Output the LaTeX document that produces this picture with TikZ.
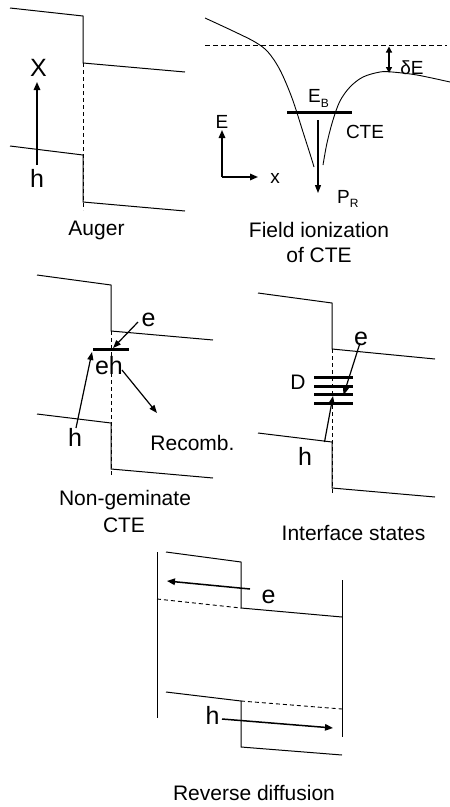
\documentclass[tikz,border=0pt]{standalone}
\usepackage{fontspec}
\setmainfont{Liberation Sans}
\usetikzlibrary{arrows.meta}
\begin{document}
\begin{tikzpicture}[x=1pt,y=-1pt,
  band/.style={line width=1pt},
  dsh/.style={line width=0.9pt, dash pattern=on 4pt off 3pt},
  arr/.style={line width=1.5pt,-{Triangle[length=8pt,width=6.5pt]}},
  tarr/.style={line width=1.2pt,-{Triangle[length=8pt,width=6pt]}},
  bar/.style={line width=3pt},
  lab/.style={inner sep=0pt, font=\fontsize{25}{28}\selectfont},
  mlab/.style={inner sep=0pt, font=\fontsize{21}{25}\selectfont},
  flab/.style={inner sep=0pt, font=\fontsize{19}{22}\selectfont},
  captxt/.style={inner sep=0pt, anchor=base, font=\fontsize{21}{25}\selectfont}]
\useasboundingbox (0,0) rectangle (450,807);

% ---------- Auger ----------
\draw[band] (10,8) -- (83,16) -- (83,63) -- (185,72);
\draw[dsh] (83,63) -- (83,210);
\draw[band] (10,146) -- (83,155) -- (83,202) -- (185,211);
\node[lab] (augX) at (38.5,67.5) {X};
\node[lab] (augh) at (37,178) {h};
\coordinate (augA) at (37,165);
\coordinate (augB) at (37,82);
\draw[arr] (augA) -- (augB);
\node[captxt] (augcap) at (96.5,235) {Auger};

% ---------- Field ionization ----------
\draw[line width=0.9pt, dash pattern=on 5pt off 3pt] (205,45) -- (447,45);
\draw[line width=0.9pt] plot[smooth,tension=0.55] coordinates
  {(205,18) (233,31) (255,42) (268,52) (280,70) (292,98) (303,132) (311,157) (314,167)};
\draw[line width=0.9pt] plot[smooth,tension=0.55] coordinates
  {(323,165) (327,143) (333,120) (340,101) (350,87) (363,77) (380,72) (392,72) (417,75) (450,82)};
\coordinate (ebL) at (287,112);
\coordinate (ebR) at (352,112);
\draw[bar] (ebL) -- (ebR);
\node[flab, anchor=base west] (eb) at (308,102) {E\raisebox{-5pt}{\fontsize{12}{12}\selectfont B}};
\node[flab] (cte) at (365,131.5) {CTE};
\node[flab] (de) at (412,68) {δE};
\coordinate (deT) at (389,46.5);
\coordinate (deB) at (389,73);
\draw[line width=1.3pt, {Triangle[length=6pt,width=6pt]}-{Triangle[length=6pt,width=6pt]}] (deT) -- (deB);
\coordinate (prA) at (318,120);
\coordinate (prB) at (318,193);
\draw[tarr] (prA) -- (prB);
\node[flab, anchor=base west] (pr) at (337,203) {P\raisebox{-4pt}{\fontsize{12}{12}\selectfont R}};
\coordinate (ax0) at (222,177);
\coordinate (axE) at (222,130);
\coordinate (axX) at (258,177);
\draw[arr] (ax0) -- (axE);
\draw[arr] (ax0) -- (axX);
\node[flab] (axEl) at (222,121.5) {E};
\node[flab] (axXl) at (275,178) {x};
\node[captxt] (ficap1) at (319,237.5) {Field ionization};
\node[captxt] (ficap2) at (319,262.5) {of CTE};

% ---------- Non-geminate CTE ----------
\draw[band] (37,275) -- (111,285) -- (111,331) -- (213,340);
\draw[dsh] (111,331) -- (111,476);
\draw[band] (37,414) -- (111,423) -- (111,469) -- (213,478);
\coordinate (ngL) at (93,349);
\coordinate (ngR) at (129,349);
\draw[bar] (ngL) -- (ngR);
\node[lab] (ngeh) at (109,365.5) {eh};
\node[lab] (nge) at (148.5,320) {e};
\node[lab] (ngh) at (75,437.5) {h};
\coordinate (ngeA) at (138,322);
\coordinate (ngeB) at (113,348);
\draw[tarr] (ngeA) -- (ngeB);
\coordinate (nghA) at (76,428);
\coordinate (nghB) at (92,352);
\draw[tarr] (nghA) -- (nghB);
\coordinate (ngrA) at (122,370);
\coordinate (ngrB) at (157,413);
\draw[tarr] (ngrA) -- (ngrB);
\node[mlab] (recomb) at (192.5,443) {Recomb.};
\node[captxt] (ngcap1) at (125,505) {Non-geminate};
\node[captxt] (ngcap2) at (124,532) {CTE};

% ---------- Interface states ----------
\draw[band] (258,293) -- (332,303) -- (332,349) -- (435,359);
\draw[dsh] (332,349) -- (332,493);
\draw[band] (258,433) -- (332,442) -- (332,488) -- (435,497);
\foreach \yy in {377,386,394.5,403.5} {\draw[bar] (314,\yy) -- (353,\yy);}
\node[mlab] (isD) at (298,382) {D};
\node[lab] (ise) at (361,338.5) {e};
\node[lab] (ish) at (305,456.5) {h};
\coordinate (iseA) at (360,343);
\coordinate (iseB) at (343.5,395);
\draw[tarr] (iseA) -- (iseB);
\coordinate (ishA) at (324.5,442);
\coordinate (ishB) at (333,396);
\draw[tarr] (ishA) -- (ishB);
\node[captxt] (iscap) at (353.5,540) {Interface states};

% ---------- Reverse diffusion ----------
\draw[band] (157,552) -- (157,718);
\draw[band] (342,580) -- (342,737);
\draw[band] (166,552) -- (241,562) -- (241,608) -- (342,617);
\draw[dsh] (157,599) -- (241,608);
\draw[band] (166,692) -- (241,701) -- (241,747) -- (342,755);
\draw[dsh] (241,701) -- (342,709);
\node[lab] (rde) at (268.5,596.5) {e};
\node[lab] (rdh) at (212.5,715) {h};
\coordinate (rdeA) at (250,589);
\coordinate (rdeB) at (167,581);
\draw[arr] (rdeA) -- (rdeB);
\coordinate (rdhA) at (222,719);
\coordinate (rdhB) at (333,728);
\draw[arr] (rdhA) -- (rdhB);
\node[captxt] (rdcap) at (254,800) {Reverse diffusion};
\end{tikzpicture}
\end{document}
